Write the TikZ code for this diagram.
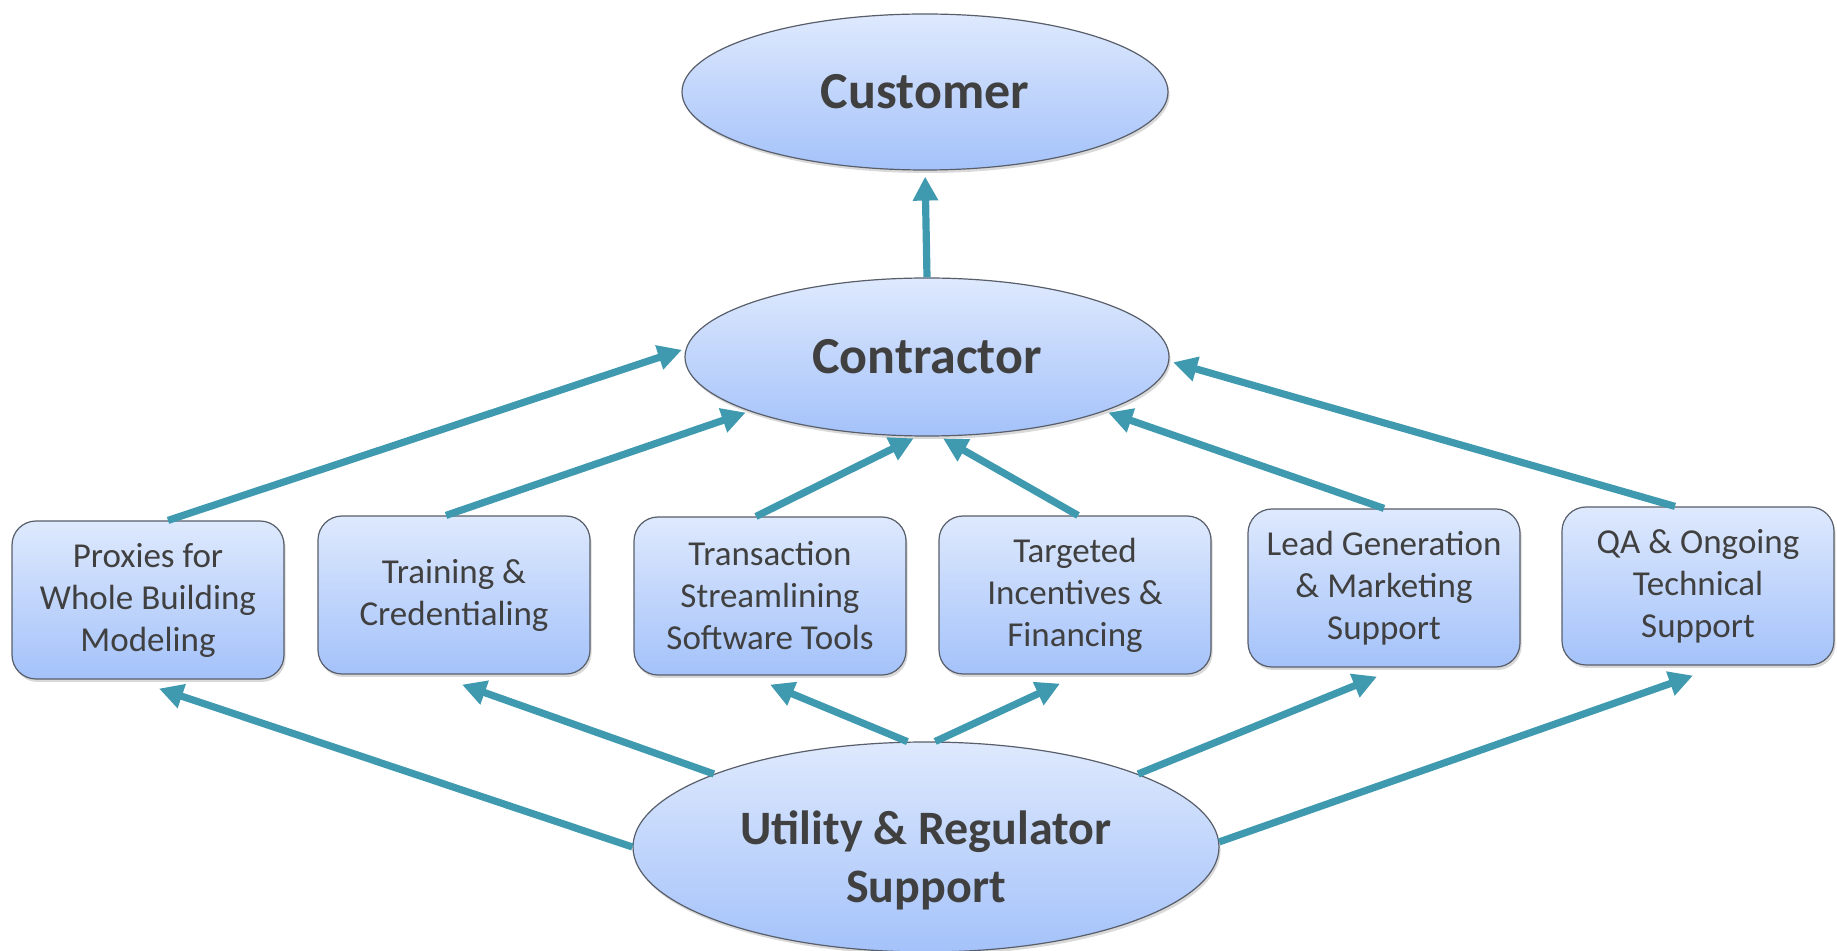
\documentclass[tikz,border=0pt]{standalone}
\usepackage{fontspec}
\setmainfont{Carlito}
\usetikzlibrary{arrows.meta}
\usetikzlibrary{shapes.geometric}
\usetikzlibrary{shadows}

\definecolor{azulflecha}{RGB}{64,154,175}
\definecolor{rellenoarriba}{RGB}{222,233,253}
\definecolor{rellenoabajo}{RGB}{164,194,250}
\definecolor{borde}{RGB}{88,94,106}
\definecolor{texto}{RGB}{64,64,64}

\begin{document}
\begin{tikzpicture}[
    x=0.5pt, y=-0.5pt, % 1 unidad = 1 pixel de la figura original
    flecha/.style={-{Triangle[length=12pt, width=12pt]}, line width=3.6pt, azulflecha}, % Flechas gruesas
    sombra/.style={drop shadow={opacity=0.3, shadow xshift=0.8pt, shadow yshift=-1.5pt}}, % Sombra suave
    ovalo/.style={ellipse, draw=borde, line width=0.6pt, top color=rellenoarriba, bottom color=rellenoabajo,
        text=texto, inner sep=0pt, align=center, sombra}, % Actores principales
    caja/.style={rectangle, rounded corners=12pt, draw=borde, line width=0.6pt, top color=rellenoarriba,
        bottom color=rellenoabajo, text=texto, inner sep=0pt, align=center,
        minimum width=136pt, minimum height=79pt, font=\fontsize{17.5}{21}\selectfont, sombra} % Programas de apoyo
]
    \useasboundingbox (0,0) rectangle (1837,951); % Margenes de la figura

    % --- Actores (elipses) ---
    \node[ovalo, minimum width=243pt, minimum height=78pt, font=\bfseries\fontsize{26}{30}\selectfont] (cliente) at (925,92) {Customer};
    \node[ovalo, minimum width=242pt, minimum height=79pt, font=\bfseries\fontsize{26}{30}\selectfont] (contratista) at (927,357) {Contractor};
    \node[ovalo, minimum width=293pt, minimum height=105pt, font=\bfseries\fontsize{24}{29}\selectfont] (utilidad) at (926,847) {\rule{0pt}{30pt}Utility \& Regulator\\Support}; % texto algo bajo

    % --- Programas (cajas redondeadas) ---
    \node[caja] (proxies) at (148,600) {Proxies for\\Whole Building\\Modeling};
    \node[caja] (formacion) at (454,595) {Training \&\\Credentialing};
    \node[caja] (transaccion) at (770,596) {Transaction\\Streamlining\\Software Tools};
    \node[caja] (incentivos) at (1075,595) {Targeted\\Incentives \&\\Financing};
    \node[caja] (marketing) at (1384,588) {Lead Generation\\\& Marketing\\Support};
    \node[caja] (soporte) at (1698,586) {QA \& Ongoing\\Technical\\Support};

    % --- Flechas hacia el contratista ---
    \draw[flecha, shorten >=2pt] ([xshift=10pt]proxies.north) -- (contratista.178);
    \draw[flecha, shorten >=2pt] ([xshift=-4pt]formacion.north) -- (contratista.197);
    \draw[flecha, shorten >=2pt] ([xshift=-7pt]transaccion.north) -- (contratista.263);
    \draw[flecha, shorten >=2pt] ([xshift=1.5pt]incentivos.north) -- (contratista.279);
    \draw[flecha, shorten >=2pt] (marketing.north) -- (contratista.343);
    \draw[flecha, shorten >=2pt] ([xshift=-11.5pt]soporte.north) -- (contratista.359);
    \draw[flecha, shorten >=3pt] (contratista.north) -- (cliente.south); % Contratista -> cliente

    % --- Flechas desde la utilidad y el regulador ---
    \draw[flecha] (utilidad.180) -- ([xshift=5.5pt, yshift=-4.5pt]proxies.south);
    \draw[flecha] (utilidad.161) -- ([xshift=4pt, yshift=-5pt]formacion.south);
    \draw[flecha] (utilidad.100) -- ([yshift=-4.5pt]transaccion.south);
    \draw[flecha] (utilidad.85) -- ([xshift=-7.5pt, yshift=-4.5pt]incentivos.south);
    \draw[flecha] (utilidad.19) -- ([xshift=-3.5pt, yshift=-4.5pt]marketing.south);
    \draw[flecha] (utilidad.1) -- ([xshift=-2.5pt, yshift=-5pt]soporte.south);

\end{tikzpicture}
\end{document}
